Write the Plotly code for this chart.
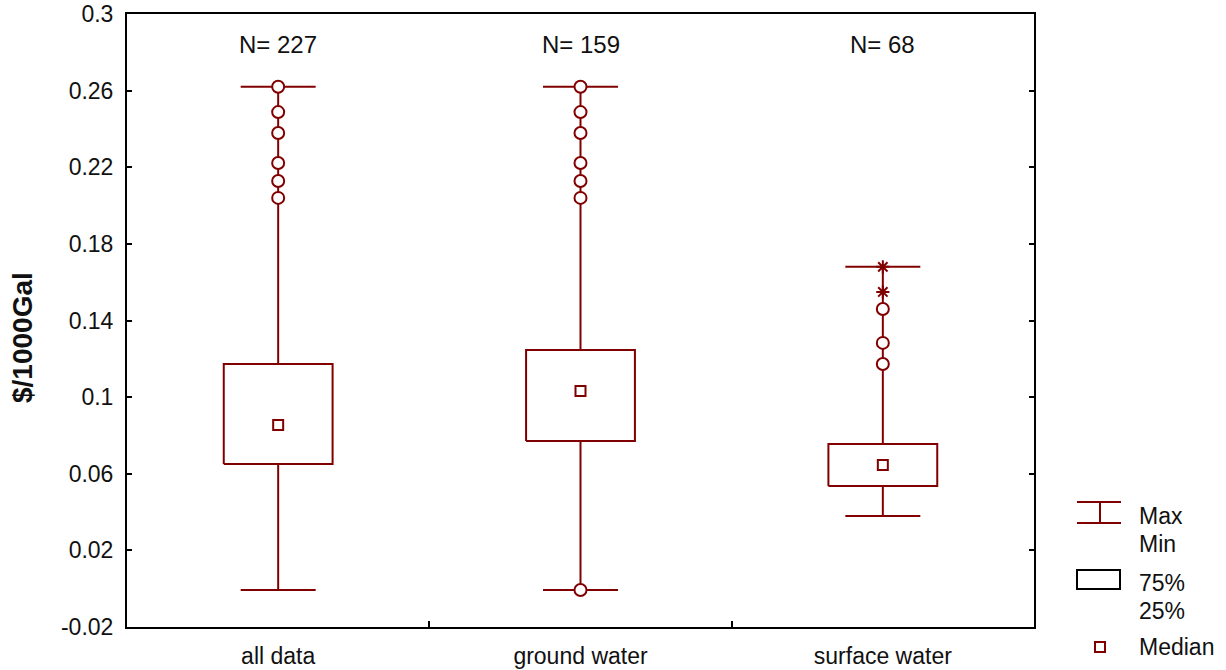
import plotly.graph_objects as go

# ---- data ----
categories = ["all data", "ground water", "surface water"]
n_labels = ["N= 227", "N= 159", "N= 68"]
q_max = [0.262, 0.262, 0.168]
q_min = [-0.0007, -0.0007, 0.038]
q75 = [0.1173, 0.1246, 0.0755]
q25 = [0.0651, 0.0771, 0.0536]
medians = [0.0855, 0.1032, 0.0646]
outliers = [
    [0.262, 0.2488, 0.2379, 0.2222, 0.2128, 0.204],
    [0.262, 0.2488, 0.2379, 0.2222, 0.2128, 0.204, -0.0007],
    [0.146, 0.1283, 0.1173],
]
extremes = [[], [], [0.168, 0.1549]]
y_ticks = [-0.02, 0.02, 0.06, 0.1, 0.14, 0.18, 0.22, 0.26, 0.3]
y_ticklabels = ["-0.02", "0.02", "0.06", "0.1", "0.14", "0.18", "0.22", "0.26", "0.3"]

RED = "#800000"
FONT = "Liberation Sans, Arial, sans-serif"
TXT = "#111"
BOX_HW = 0.18
CAP_HW = 0.124

fig = go.Figure()

for i, cat in enumerate(categories):
    fig.add_trace(go.Scatter(
        x=[i - CAP_HW, i + CAP_HW, None, i, i, None, i, i, None, i - CAP_HW, i + CAP_HW],
        y=[q_max[i], q_max[i], None, q_max[i], q75[i], None, q25[i], q_min[i], None, q_min[i], q_min[i]],
        mode="lines", line=dict(color=RED, width=2), showlegend=False, hoverinfo="skip"))
    fig.add_trace(go.Scatter(
        x=[i - BOX_HW, i + BOX_HW, i + BOX_HW, i - BOX_HW, i - BOX_HW],
        y=[q25[i], q25[i], q75[i], q75[i], q25[i]],
        mode="lines", line=dict(color=RED, width=2), showlegend=False, hoverinfo="skip"))
    fig.add_trace(go.Scatter(
        x=[i], y=[medians[i]], mode="markers",
        marker=dict(symbol="square", size=10, color="white", line=dict(color=RED, width=2)),
        showlegend=False))
    if outliers[i]:
        fig.add_trace(go.Scatter(
            x=[i] * len(outliers[i]), y=outliers[i], mode="markers",
            marker=dict(symbol="circle", size=12, color="white", line=dict(color=RED, width=2)),
            showlegend=False))
    if extremes[i]:
        fig.add_trace(go.Scatter(
            x=[i] * len(extremes[i]), y=extremes[i], mode="markers",
            marker=dict(symbol="asterisk-open", size=11, color=RED, line=dict(color=RED, width=2)),
            showlegend=False))
    fig.add_annotation(x=i, y=0.2843, xref="x", yref="y", text=n_labels[i], showarrow=False,
                       font=dict(family=FONT, size=24, color=TXT))

fig.add_trace(go.Scatter(x=[0.5, 1.5], y=[None, None], xaxis="x2", showlegend=False, hoverinfo="skip"))

L, R, T, B = 127, 1034, 14, 627
W, H = R - L, B - T


def px(x):
    return (x - L) / W


def py(y):
    return (B - y) / H


lshapes = [
    dict(type="line", x0=px(1077), x1=px(1121), y0=py(502), y1=py(502), line=dict(color=RED, width=2)),
    dict(type="line", x0=px(1077), x1=px(1121), y0=py(523), y1=py(523), line=dict(color=RED, width=2)),
    dict(type="line", x0=px(1100), x1=px(1100), y0=py(502), y1=py(523), line=dict(color=RED, width=2)),
    dict(type="rect", x0=px(1077), x1=px(1120), y0=py(570), y1=py(589), line=dict(color="black", width=2)),
    dict(type="rect", x0=px(1095), x1=px(1105), y0=py(642), y1=py(652), line=dict(color=RED, width=2)),
]
for s in lshapes:
    s.update(xref="paper", yref="paper")
    fig.add_shape(**s)

for txt, yy in [("Max", 516), ("Min", 544), ("75%", 583), ("25%", 611), ("Median", 647)]:
    fig.add_annotation(x=px(1137), y=py(yy), xref="paper", yref="paper", text=txt, showarrow=False,
                       xanchor="left", yanchor="middle", font=dict(family=FONT, size=23, color=TXT))

fig.add_annotation(x=px(22), y=py(338), xref="paper", yref="paper", text="<b>$/1000Gal</b>",
                   showarrow=False, textangle=-90, xanchor="center", yanchor="middle",
                   font=dict(family=FONT, size=28, color=TXT))

fig.update_layout(
    width=1226, height=670,
    margin=dict(l=L, r=1226 - R, t=T, b=670 - B),
    paper_bgcolor="white", plot_bgcolor="white",
    font=dict(family=FONT, size=23, color=TXT),
    xaxis=dict(range=[-0.5, 2.5], tickvals=[0, 1, 2], ticktext=categories, ticks="",
               showline=True, linecolor="black", linewidth=2, mirror=True, showgrid=False,
               zeroline=False, tickfont=dict(size=23), automargin=False, ticklabelstandoff=7),
    xaxis2=dict(overlaying="x", range=[-0.5, 2.5], tickvals=[0.5, 1.5], ticks="inside", ticklen=6,
                tickwidth=1.5, tickcolor="black", showticklabels=False, showgrid=False, zeroline=False,
                side="bottom", showline=False, automargin=False),
    yaxis=dict(range=[-0.02, 0.3], tickvals=y_ticks, ticktext=y_ticklabels, ticks="inside", ticklen=5,
               tickwidth=1.5, tickcolor="black", showline=True, linecolor="black", linewidth=2,
               mirror="ticks", showgrid=False, zeroline=False, tickfont=dict(size=23), automargin=False,
               ticklabelstandoff=7),
)

fig.write_html("out.html")
